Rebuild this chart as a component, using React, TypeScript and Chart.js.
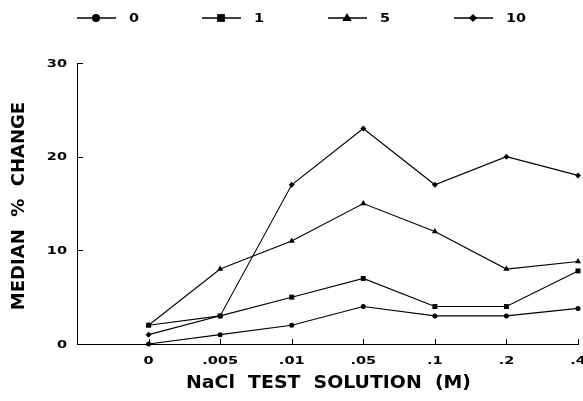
import React, { useEffect, useRef } from "react";
import { Chart, registerables } from "chart.js";

Chart.register(...registerables);

const categories = ["0", ".005", ".01", ".05", ".1", ".2", ".4"];
const yTickValues = [0, 10, 20, 30];
const seriesNames = ["0", "1", "5", "10"];
const series0 = [0, 1, 2, 4, 3, 3, 3.8];
const series1 = [2, 3, 5, 7, 4, 4, 7.8];
const series5 = [2, 8, 11, 15, 12, 8, 8.8];
const series10 = [1, 3, 17, 23, 17, 20, 18];
const pointStyles = ["circle", "rect", "triangle", "rectRot"];
const pointRadii = [2.5, 3.5, 3.5, 3];
const legendRadii = [4, 5.5, 5, 4];

const FONT = "'DejaVu Sans', 'Liberation Sans', sans-serif";

function wideText(
  ctx: CanvasRenderingContext2D,
  text: string,
  x: number,
  y: number,
  size: number,
  sx: number,
  align: "left" | "center" | "right"
) {
  ctx.save();
  ctx.font = `bold ${size}px ${FONT}`;
  ctx.textBaseline = "middle";
  ctx.textAlign = "left";
  const w = ctx.measureText(text).width * sx;
  const left = align === "center" ? x - w / 2 : align === "right" ? x - w : x;
  ctx.translate(left, y);
  ctx.scale(sx, 1);
  ctx.fillStyle = "#000";
  ctx.fillText(text, 0, 0);
  ctx.restore();
}

function drawMarker(ctx: CanvasRenderingContext2D, style: string, x: number, y: number, r: number) {
  ctx.save();
  ctx.fillStyle = "#000";
  ctx.beginPath();
  if (style === "circle") {
    ctx.arc(x, y, r, 0, Math.PI * 2);
  } else if (style === "rect") {
    const s = r * Math.SQRT1_2;
    ctx.rect(x - s, y - s, 2 * s, 2 * s);
  } else if (style === "triangle") {
    ctx.moveTo(x, y - r);
    ctx.lineTo(x + r * 0.95, y + r * 0.6);
    ctx.lineTo(x - r * 0.95, y + r * 0.6);
    ctx.closePath();
  } else {
    ctx.moveTo(x, y - r);
    ctx.lineTo(x + r, y);
    ctx.lineTo(x, y + r);
    ctx.lineTo(x - r, y);
    ctx.closePath();
  }
  ctx.fill();
  ctx.restore();
}

const decorPlugin = {
  id: "decor",
  afterDraw(chart: any) {
    const ctx: CanvasRenderingContext2D = chart.ctx;
    const xs = chart.scales.x;
    const ys = chart.scales.y;
    const area = chart.chartArea;
    ctx.save();
    ctx.strokeStyle = "#000";
    ctx.lineWidth = 1;
    ctx.beginPath();
    yTickValues.forEach((v) => {
      const py = Math.round(ys.getPixelForValue(v)) + 0.5;
      ctx.moveTo(area.left, py);
      ctx.lineTo(area.left + 6, py);
    });
    categories.forEach((_, i) => {
      const px = Math.round(xs.getPixelForValue(i)) + 0.5;
      ctx.moveTo(px, area.bottom);
      ctx.lineTo(px, area.bottom - 5);
    });
    ctx.stroke();
    ctx.restore();

    yTickValues.forEach((v) => {
      wideText(ctx, String(v), area.left - 10, ys.getPixelForValue(v) + 1, 10, 1.45, "right");
    });
    categories.forEach((c, i) => {
      wideText(ctx, c, xs.getPixelForValue(i), area.bottom + 17, 10, 1.45, "center");
    });

    wideText(ctx, "NaCl  TEST  SOLUTION  (M)", (area.left + area.right) / 2 + 1, area.bottom + 39, 18, 1.05, "center");
    ctx.save();
    ctx.translate(19, 206);
    ctx.rotate(-Math.PI / 2);
    wideText(ctx, "MEDIAN  %  CHANGE", 0, 0, 18, 1.0, "center");
    ctx.restore();

    const starts = [77, 202, 328, 454];
    chart.data.datasets.forEach((ds: any, i: number) => {
      const x0 = starts[i];
      const y0 = 18;
      ctx.save();
      ctx.strokeStyle = "#000";
      ctx.lineWidth = 1.5;
      ctx.beginPath();
      ctx.moveTo(x0, y0);
      ctx.lineTo(x0 + 39, y0);
      ctx.stroke();
      ctx.restore();
      drawMarker(ctx, pointStyles[i], x0 + 19, y0, legendRadii[i]);
      wideText(ctx, ds.label, x0 + 52, y0 + 1, 12, 1.2, "left");
    });
  },
};

export default function App() {
  const canvasRef = useRef<HTMLCanvasElement | null>(null);

  useEffect(() => {
    if (!canvasRef.current) return;
    const allSeries = [series0, series1, series5, series10];
    const chart = new Chart(canvasRef.current, {
      type: "line",
      data: {
        datasets: allSeries.map((vals, i) => ({
          label: seriesNames[i],
          data: vals.map((v, j) => ({ x: j, y: v })),
          borderColor: "#000",
          backgroundColor: "#000",
          borderWidth: 1.1,
          pointStyle: pointStyles[i] as any,
          pointRadius: pointRadii[i],
          pointBackgroundColor: "#000",
          pointBorderWidth: 0,
          tension: 0,
          fill: false,
          clip: false as any,
        })),
      },
      options: {
        animation: false,
        responsive: false,
        maintainAspectRatio: false,
        layout: { padding: { left: 77, right: 5, top: 63, bottom: 57 } },
        plugins: {
          legend: { display: false },
          tooltip: { enabled: false },
          title: { display: false },
        },
        scales: {
          x: {
            type: "linear",
            min: -1,
            max: 6,
            ticks: { display: false, padding: 0 },
            grid: { display: false, drawTicks: false, tickLength: 0 },
            border: { display: true, color: "#000", width: 1 },
          },
          y: {
            type: "linear",
            min: 0,
            max: 30,
            ticks: { display: false, padding: 0 },
            grid: { display: false, drawTicks: false, tickLength: 0 },
            border: { display: true, color: "#000", width: 1 },
          },
        },
      },
      plugins: [decorPlugin],
    });
    return () => chart.destroy();
  }, []);

  return (
    <div style={{ position: "absolute", left: 0, top: 0, width: 583, height: 401, background: "#fff" }}>
      <canvas ref={canvasRef} width={583} height={401} style={{ width: 583, height: 401 }} />
    </div>
  );
}
